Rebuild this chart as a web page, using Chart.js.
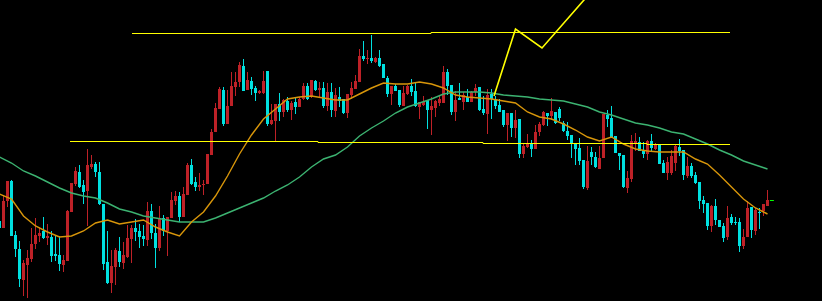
<!DOCTYPE html>
<html>
<head>
<meta charset="utf-8">
<script src="https://cdn.jsdelivr.net/npm/chart.js@4"></script>
<style>
  html, body { margin: 0; padding: 0; background: #000; }
  #wrap { width: 822px; height: 301px; position: relative; }
</style>
</head>
<body>
<div id="wrap"><canvas id="kChart"></canvas></div>
<script>
// first candle on screen is bar -1 (cut by the left edge)
const FIRST_BAR = -1;

const opens = [
  80,73,100,120,66,52,21,36,42,57,
  65,70,63,64,47,46,36,40,89,117,
  129,116,110,134,137,129,97,39,18,34,
  50,38,44,62,73,70,65,61,90,68,
  53,83,70,83,100,105,84,106,136,119,
  114,116,117,146,169,192,211,177,195,214,
  219,235,211,220,213,208,208,230,177,180,
  197,189,200,191,199,194,202,215,204,220,
  211,213,195,209,190,204,202,188,206,212,
  219,245,242,243,239,243,237,223,207,215,
  211,195,207,215,210,194,196,201,191,193,
  198,198,229,216,189,203,199,204,199,209,
  214,192,187,207,201,196,191,176,188,173,
  182,147,154,158,152,169,176,188,185,189,
  192,178,170,166,157,153,141,113,149,144,
  132,143,186,183,165,148,146,113,122,158,
  159,150,147,160,152,156,138,128,128,138,
  154,151,125,135,126,119,101,98,75,95,
  81,75,64,84,79,79,55,64,94,70,
  89,90,95
];
const closes = [
  73,100,120,65,52,22,38,43,57,66,
  68,63,65,45,45,37,41,90,118,130,
  114,109,136,137,129,97,37,18,35,51,
  39,46,63,73,69,64,62,90,68,53,
  83,70,84,101,105,84,107,136,117,114,
  116,117,147,169,193,212,177,195,215,219,
  236,210,221,212,208,210,220,177,181,197,
  189,201,191,198,194,202,215,202,221,211,
  213,195,209,191,206,200,188,207,213,220,
  245,242,243,240,243,235,223,207,215,210,
  196,208,215,209,195,199,199,191,195,200,
  202,229,215,189,201,201,206,199,209,213,
  191,188,206,202,195,189,176,188,173,181,
  147,155,158,152,169,177,189,185,190,178,
  183,170,165,158,152,140,114,140,144,134,
  143,187,182,164,148,145,114,123,160,160,
  150,147,160,153,156,137,128,139,145,155,
  150,126,135,125,118,100,97,75,95,81,
  74,63,83,78,78,55,64,93,71,91,
  88,97,101
];
const highs = [
  82,106,120,121,70,60,41,51,73,83,
  73,84,77,70,65,65,46,91,118,134,
  136,121,152,146,139,139,97,70,51,53,
  64,59,76,76,82,77,76,99,97,77,
  95,86,84,109,110,109,114,138,142,124,
  128,121,147,172,198,214,214,211,229,229,
  239,242,229,224,215,211,230,230,197,197,
  208,202,204,200,203,204,218,218,221,221,
  219,219,218,218,213,214,202,207,219,226,
  252,260,251,266,244,251,237,225,215,217,
  211,215,216,222,218,199,205,201,204,201,
  206,235,232,216,210,218,209,212,210,217,
  214,205,212,212,205,202,191,188,188,191,
  182,158,167,161,176,179,190,188,203,189,
  194,180,179,166,157,163,141,155,154,149,
  155,187,191,195,165,148,146,130,166,168,
  164,159,161,167,158,156,141,144,151,157,
  162,151,144,138,129,119,105,98,96,102,
  81,78,95,87,84,83,72,100,94,93,
  93,97,111
];
const lows = [
  72,73,94,65,44,14,5,3,39,52,
  59,62,56,39,40,30,29,40,89,115,
  113,97,75,132,124,96,31,17,8,16,
  34,32,43,38,60,53,55,55,62,33,
  50,65,45,83,96,79,84,106,116,110,
  110,106,117,146,169,192,175,177,195,205,
  214,210,211,206,200,207,207,175,176,160,
  180,184,189,181,187,194,201,201,203,210,
  203,193,190,184,184,194,187,183,202,212,
  219,240,237,238,238,234,223,204,196,210,
  194,195,206,205,194,182,195,172,166,184,
  195,198,206,186,180,201,191,199,199,205,
  190,186,167,182,192,189,174,160,164,163,
  143,143,153,144,152,165,175,175,181,177,
  180,169,161,143,136,136,112,111,136,133,
  132,143,174,164,148,131,113,108,119,150,
  150,143,141,149,151,137,128,121,126,130,
  145,121,123,123,117,92,88,71,69,76,
  74,59,61,76,76,49,52,64,63,66,
  72,85,95
];

// moving averages, read every 3rd bar starting at bar -1
const MA_STEP = 3;
const maFast = [
  107,102,85,75,69,64,65,70,78,81,
  77,79,81,74,69,65,79,89,105,125,
  147,166,182,192,202,204,205,203,201,201,
  207,213,218,217,217,219,217,213,206,204,
  203,202,200,198,189,184,182,177,171,164,
  160,164,157,152,150,149,149,149,142,137,
  126,114,102,93,87
];
const maSlow = [
  144,138,130,125,119,113,108,105,103,98,
  92,89,85,83,81,79,79,79,83,88,
  93,98,103,110,116,124,134,142,146,154,
  165,173,180,188,194,198,202,207,209,209,
  209,208,206,205,204,202,201,200,197,194,
  189,186,182,178,176,173,169,167,162,157,
  151,146,140,136,132
];

// drawn objects: trend lines (bar position, price)
const upperBars = [32.125, 106.875, 181.625];
const upperLevels = [267.5, 268.5, 268.5];
const lowerBars = [16.625, 78.625, 119.875, 160.875, 181.625];
const lowerLevels = [159.5, 158.5, 157.5, 156.5, 156.5];
const zigBars = [122.625, 128, 134.625, 146];
const zigLevels = [205, 272, 253, 305];
const lastBars = [191.6, 192.6];
const lastLevels = [100.5, 100.5];

const UP = '#be2127';
const DOWN = '#00e0e0';

function pts(xs, ys) {
  return xs.map((x, i) => ({ x: x, y: ys[i] }));
}

const bars = opens.map((_, i) => FIRST_BAR + i);
const candleColors = opens.map((o, i) => closes[i] >= o ? UP : DOWN);
const maBars = maFast.map((_, k) => FIRST_BAR + k * MA_STEP);

const yellowLine = {
  type: 'line', borderColor: '#ffff00', borderWidth: 1,
  pointRadius: 0, order: 0
};

new Chart(document.getElementById('kChart'), {
  type: 'bar',
  data: {
    datasets: [
      Object.assign({}, yellowLine, { data: pts(upperBars, upperLevels), stepped: true }),
      Object.assign({}, yellowLine, { data: pts(lowerBars, lowerLevels), stepped: true }),
      Object.assign({}, yellowLine, { data: pts(zigBars, zigLevels), borderWidth: 1.6 }),
      {
        type: 'line', data: pts(lastBars, lastLevels), borderColor: '#00ff00',
        borderWidth: 1, pointRadius: 0, order: 0
      },
      {
        type: 'line', data: pts(maBars, maFast), borderColor: '#d8960a',
        borderWidth: 1.4, pointRadius: 0, tension: 0, order: 1
      },
      {
        type: 'line', data: pts(maBars, maSlow), borderColor: '#3cb371',
        borderWidth: 1.4, pointRadius: 0, tension: 0, order: 1
      },
      {
        data: bars.map((b, i) => ({ x: b, y: [opens[i], closes[i]] })),
        backgroundColor: candleColors, barThickness: 3, grouped: false,
        minBarLength: 1, inflateAmount: 0, borderWidth: 0, order: 2
      },
      {
        data: bars.map((b, i) => ({ x: b, y: [lows[i], highs[i]] })),
        backgroundColor: candleColors, barThickness: 1, grouped: false,
        minBarLength: 1, inflateAmount: 0, borderWidth: 0, order: 3
      }
    ]
  },
  options: {
    responsive: true,
    maintainAspectRatio: false,
    animation: false,
    layout: { padding: 0 },
    plugins: { legend: { display: false }, tooltip: { enabled: false } },
    scales: {
      x: { type: 'linear', min: -0.875, max: 204.625, offset: false, display: false },
      y: { min: 0, max: 301, display: false }
    }
  }
});
</script>
</body>
</html>
